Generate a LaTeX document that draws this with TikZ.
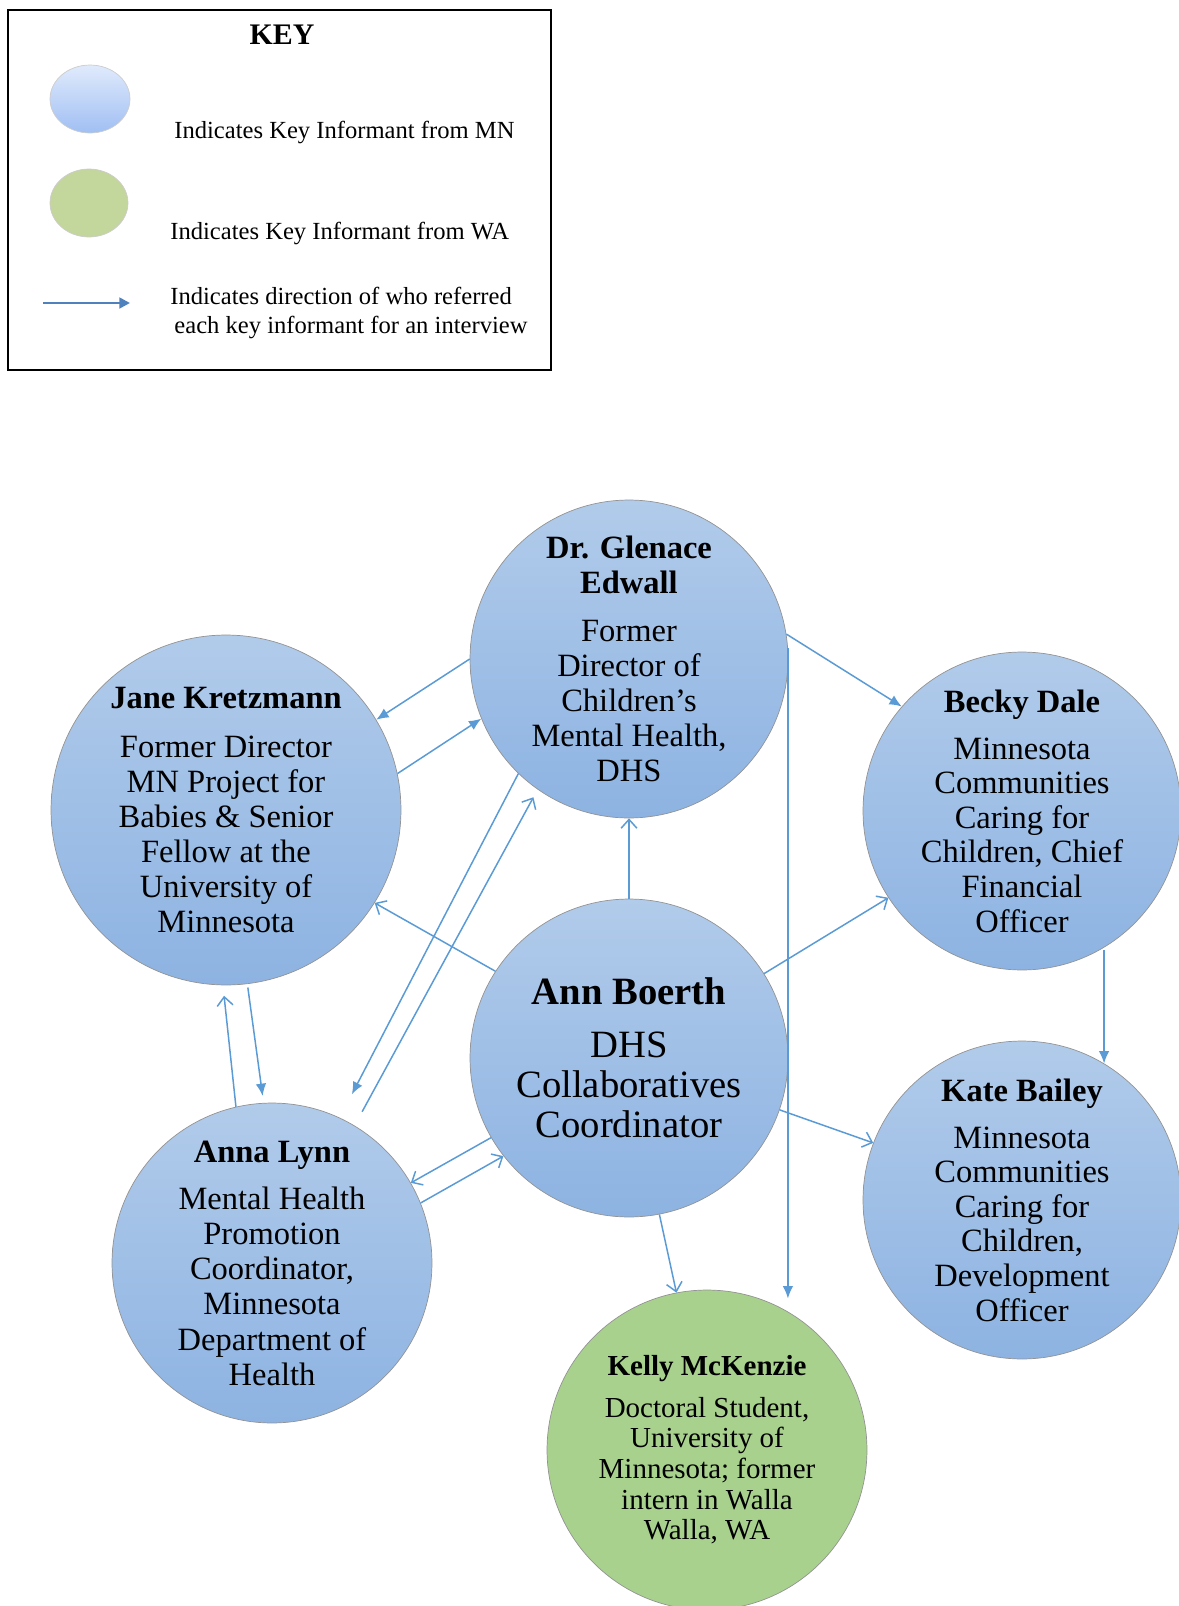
\documentclass[tikz,border=0pt]{standalone}
\usepackage{fontspec}
\setmainfont{Liberation Serif}
\usetikzlibrary{arrows.meta,shapes.geometric}

\definecolor{mntop}{RGB}{177,203,234}
\definecolor{mnbot}{RGB}{141,179,226}
\definecolor{wagreen}{RGB}{169,209,142}
\definecolor{keytop}{RGB}{224,234,252}
\definecolor{keybot}{RGB}{160,191,243}
\definecolor{keygreen}{RGB}{195,214,155}
\definecolor{referblue}{RGB}{91,155,213}
\definecolor{keyblue}{RGB}{79,129,189}

\tikzset{
  mncirc/.style={circle, draw=gray!85, line width=0.4pt, top color=mntop, bottom color=mnbot, minimum size=6.36cm, inner sep=0pt},
  wacirc/.style={circle, draw=gray!85, line width=0.4pt, fill=wagreen, minimum size=6.4cm, inner sep=0pt},
  who/.style={align=center, inner sep=0pt, font=\fontsize{18.5}{20}\selectfont},
  keytext/.style={inner sep=0pt, font=\fontsize{14}{16.5}\selectfont},
  refer/.style={draw=referblue, line width=0.85pt},
  fillhead/.style={refer, -{Latex[length=7pt,width=6pt]}},
  openhead/.style={refer, -{Straight Barb[length=5pt,width=9pt]}},
}

\begin{document}
\begin{tikzpicture}[x=0.02cm, y=-0.02cm]
\useasboundingbox (0,0) rectangle (1179,1606);

% key
\draw[line width=1.5pt] (8,10) rectangle (551,370);
\node[font=\bfseries\fontsize{17}{20}\selectfont] (keytitle) at (282,35) {KEY};
\node[ellipse, draw=gray!40, top color=keytop, bottom color=keybot, minimum width=1.6cm, minimum height=1.36cm, inner sep=0pt] (keymn) at (90,99) {};
\node[ellipse, draw=gray!40, fill=keygreen, minimum width=1.56cm, minimum height=1.36cm, inner sep=0pt] (keywa) at (89,203) {};
\node[keytext, anchor=west] (keymntxt) at (174,132) {Indicates Key Informant from MN};
\node[keytext, anchor=west] (keywatxt) at (170,233) {Indicates Key Informant from WA};
\coordinate (keyfrom) at (43,303);
\coordinate (keyto) at (130,303);
\draw[keyblue, line width=1.7pt, -{Triangle[length=6pt,width=6pt]}] (keyfrom) -- (keyto);
\node[keytext, anchor=west, align=left] (keyreftxt) at (170,313) {Indicates direction of who referred\\ \,each key informant for an interview};

% informants
\node[mncirc] (glen) at (629,659) {};
\node[who] (glentxt) at (glen) {\textbf{Dr. Glenace}\\ \textbf{Edwall}\\[7pt] Former\\ Director of\\ Children's\\ Mental Health,\\ DHS};

\node[mncirc, minimum size=7cm] (jane) at (226,810) {};
\node[who] (janetxt) at (jane) {\textbf{Jane Kretzmann}\\[8pt] Former Director\\ MN Project for\\ Babies \& Senior\\ Fellow at the\\ University of\\ Minnesota};

\node[mncirc] (becky) at (1022,811) {};
\node[who, font=\fontsize{18.5}{19.7}\selectfont] (beckytxt) at (becky) {\textbf{Becky Dale}\\[7pt] Minnesota\\ Communities\\ Caring for\\ Children, Chief\\ Financial\\ Officer};

\node[mncirc] (ann) at (629,1058) {};
\node[who, font=\fontsize{22}{23}\selectfont] (anntxt) at (ann) {\textbf{Ann Boerth}\\[7pt] DHS\\ Collaboratives\\ Coordinator};

\node[mncirc] (kate) at (1022,1200) {};
\node[who, font=\fontsize{18.5}{19.7}\selectfont] (katetxt) at (kate) {\textbf{Kate Bailey}\\[7pt] Minnesota\\ Communities\\ Caring for\\ Children,\\ Development\\ Officer};

\node[mncirc, minimum size=6.4cm] (anna) at (272,1263) {};
\node[who] (annatxt) at (anna) {\textbf{Anna Lynn}\\[7pt] Mental Health\\ Promotion\\ Coordinator,\\ Minnesota\\ Department of\\ Health};

\node[wacirc] (kelly) at (707,1450) {};
\node[who, font=\fontsize{16.5}{17.5}\selectfont] (kellytxt) at (kelly) {\textbf{Kelly McKenzie}\\[6pt] Doctoral Student,\\ University of\\ Minnesota; former\\ intern in Walla\\ Walla, WA};

% referrals
\draw[fillhead] (glen.180) -- (jane.31);
\draw[fillhead] (jane.12) -- (glen.202);
\draw[fillhead] (glen.9) -- (becky.139);
\draw[fillhead] (glen.4) -- (glen.4 |- kelly.71);
\draw[openhead] (ann.north) -- (glen.south);
\draw[fillhead, shorten >=15pt] (glen.226) -- (anna.65);
\draw[openhead, shorten <=9pt, shorten >=5pt] (anna.59) -- (glen.235);
\draw[openhead] (ann.147) -- (jane.328);
\draw[openhead, shorten >=6pt] (anna.103) -- (jane.269);
\draw[fillhead, shorten <=2pt, shorten >=4pt] (jane.277) -- (anna.93);
\draw[openhead] (ann.210) -- (anna.30);
\draw[openhead] (anna.22) -- (ann.218);
\draw[openhead] (ann.32) -- (becky.213);
\draw[openhead] (ann.341) -- (kate.159);
\draw[fillhead] (kate.59 |- becky.299) -- (kate.59);
\draw[openhead] (ann.281) -- (kelly.101);
\end{tikzpicture}
\end{document}
